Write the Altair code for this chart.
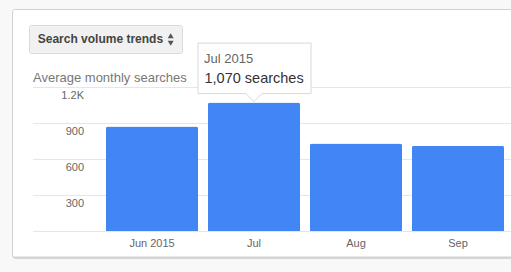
import altair as alt
import pandas as pd

# ---- data ----
months = ["Jun 2015", "Jul", "Aug", "Sep"]
searches = [870, 1070, 730, 710]
y_ticks = [0, 300, 600, 900, 1200]
y_tick_labels = ["", "300", "600", "900", "1.2K"]
tooltip_month = "Jul"
tooltip_title = "Jul 2015"
button_label = "Search volume trends"
y_title = "Average monthly searches"

FONT = "Liberation Sans"
W, H = 478, 144

df = pd.DataFrame({"month": months, "value": searches})
ticks_df = pd.DataFrame({"tick": y_ticks, "label": y_tick_labels})
one = pd.DataFrame({"k": [0]})

y_scale = alt.Scale(domain=[0, 1200], nice=False, zero=True)
x_scale = alt.Scale(domain=months, range=[73, 471], paddingInner=0.098, paddingOuter=0)
x_axis = alt.Axis(title=None, ticks=False, tickSize=0, domain=False, grid=False,
                  labelFont=FONT, labelFontSize=11, labelColor="#666666",
                  labelBaseline="alphabetic", labelPadding=15.5, zindex=1, labelAngle=0)
x_enc = alt.X("month:N", sort=months, scale=x_scale, axis=x_axis)
y_enc = alt.Y("value:Q", scale=y_scale, axis=None)

# card shadow + card
shadow = alt.Chart(one).mark_rect(fill="#d6d6d6", cornerRadius=3).encode(
    x=alt.value(-20.5), x2=alt.value(W + 20), y=alt.value(-77.5), y2=alt.value(172))
card = alt.Chart(one).mark_rect(fill="white", stroke="#d0d0d0", strokeWidth=1, cornerRadius=2).encode(
    x=alt.value(-20.5), x2=alt.value(W + 20), y=alt.value(-77.5), y2=alt.value(170))

# button
button = alt.Chart(one).mark_rect(fill="#f1f1f1", stroke="#dadada", strokeWidth=1, cornerRadius=2).encode(
    x=alt.value(-3.5), x2=alt.value(149.5), y=alt.value(-61.5), y2=alt.value(-33.5))
button_text = alt.Chart(one).mark_text(font=FONT, fontSize=12, fontWeight="bold", color="#444444",
                                        align="left", baseline="alphabetic").encode(
    x=alt.value(4.7), y=alt.value(-43.6), text=alt.value(button_label))
arrows = alt.Chart(one).mark_point(
    shape="M -3 -1.2 L 3 -1.2 L 0 -6.2 Z M -3 1.2 L 3 1.2 L 0 6.2 Z",
    size=4, filled=True, fill="#555555", opacity=1, strokeWidth=0).encode(
    x=alt.value(137.7), y=alt.value(-47.5))

title_text = alt.Chart(one).mark_text(font=FONT, fontSize=13, color="#777777",
                                       align="left", baseline="alphabetic").encode(
    x=alt.value(0), y=alt.value(-5.5), text=alt.value(y_title))

# gridlines and y labels
grid = alt.Chart(ticks_df).mark_rule(color="#e6e6e6", strokeWidth=1, yOffset=0.5).encode(
    y=alt.Y("tick:Q", scale=y_scale, axis=None), x=alt.value(0), x2=alt.value(W + 5))
ylabels = alt.Chart(ticks_df).mark_text(font=FONT, fontSize=11, color="#666666",
                                         align="right", baseline="alphabetic", dy=12).encode(
    y=alt.Y("tick:Q", scale=y_scale, axis=None), x=alt.value(51), text="label:N")

# bars
bars = alt.Chart(df).mark_bar(color="#4285f4", cornerRadiusTopLeft=2, cornerRadiusTopRight=2).encode(
    x=x_enc, y=y_enc)

# tooltip
tip_df = df[df["month"] == tooltip_month].copy()
tip_df["title"] = tooltip_title
tip_base = alt.Chart(tip_df).transform_calculate(
    line2="format(datum.value, ',') + ' searches'")
tip_box = tip_base.mark_point(
    shape="M -56 -59.5 L 57 -59.5 L 57 -9 L 8 -9 L 0 -1 L -8 -9 L -56 -9 Z",
    size=4, filled=True, fill="white", stroke="#d8d8d8", strokeWidth=1, opacity=1).encode(
    x=x_enc, y=y_enc)
tip_t1 = tip_base.mark_text(font=FONT, fontSize=13, color="#666666", align="left",
                            baseline="alphabetic", dx=-50, dy=-40).encode(
    x=x_enc, y=y_enc, text="title:N")
tip_t2 = tip_base.mark_text(font=FONT, fontSize=14.5, color="#333333", align="left",
                            baseline="alphabetic", dx=-49.5, dy=-20).encode(
    x=x_enc, y=y_enc, text="line2:N")

chart = alt.layer(shadow, card, button, button_text, arrows, title_text, grid, ylabels,
                  bars, tip_box, tip_t1, tip_t2).properties(
    width=W, height=H,
    autosize=alt.AutoSizeParams(type="none"),
    padding={"left": 33, "top": 87, "right": 0, "bottom": 41},
    background="#f8f8f8",
).configure_view(stroke=None)

chart.save("out.html", embed_options={"renderer": "svg", "actions": False})
